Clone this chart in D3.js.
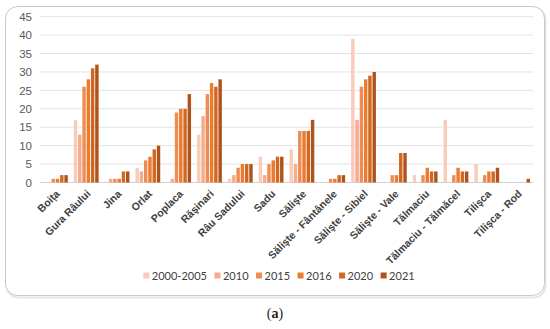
<!DOCTYPE html>
<html>
<head>
<meta charset="utf-8">
<script src="https://cdn.jsdelivr.net/npm/d3@7"></script>
<style>
  body { margin: 0; background: #fff; }
  svg { display: block; font-family: Lato, "Open Sans", sans-serif; }
</style>
</head>
<body>
<div id="chart"></div>
<script>
// localities on x axis
var localities = [
    "Boița", "Gura Râului", "Jina", "Orlat", "Poplaca", "Răşinari",
    "Râu Sadului", "Sadu", "Sălişte", "Sălişte - Fântânele", "Sălişte - Sibiel",
    "Sălişte - Vale", "Tălmaciu", "Tălmaciu - Tălmăcel", "Tilişca", "Tilişca - Rod"
];
var years = ["2000-2005", "2010", "2015", "2016", "2020", "2021"];

// one array per series, same order as localities
var s2000_2005 = [0, 17, 0, 4, 0, 13, 1, 7, 9, 0, 39, 0, 2, 17, 5, 0];
var s2010      = [0, 13, 1, 3, 1, 18, 2, 2, 5, 0, 17, 0, 0, 0, 0, 0];
var s2015      = [1, 26, 1, 6, 19, 24, 4, 5, 14, 1, 26, 2, 2, 2, 2, 0];
var s2016      = [1, 28, 1, 7, 20, 27, 5, 6, 14, 1, 28, 2, 4, 4, 3, 0];
var s2020      = [2, 31, 3, 9, 20, 26, 5, 7, 14, 2, 29, 8, 3, 3, 3, 0];
var s2021      = [2, 32, 3, 10, 24, 28, 5, 7, 17, 2, 30, 8, 3, 3, 4, 1];

var yTicks = [0, 5, 10, 15, 20, 25, 30, 35, 40, 45];
var colors = ["#f9cbb9", "#f4ab8e", "#ef8c55", "#eb7b2e", "#d06821", "#b0521b"];

var series = [s2000_2005, s2010, s2015, s2016, s2020, s2021];

var width = 550, height = 329;
var plotLeft = 40, plotRight = 533, plotTop = 16.7, plotBottom = 182.5;

var svg = d3.select("#chart")
    .append("svg")
    .attr("width", width)
    .attr("height", height);

// frame with soft shadow
svg.append("rect")
    .attr("x", 6.5).attr("y", 7.5)
    .attr("width", 539).attr("height", 290)
    .attr("rx", 12)
    .attr("fill", "none")
    .attr("stroke", "#e6e6e6")
    .attr("stroke-width", 2);
svg.append("rect")
    .attr("x", 5.5).attr("y", 6.5)
    .attr("width", 539).attr("height", 289)
    .attr("rx", 12)
    .attr("fill", "#fff")
    .attr("stroke", "#c8c8c8")
    .attr("stroke-width", 1);

var x = d3.scaleBand()
    .domain(localities)
    .range([plotLeft, plotRight])
    .paddingInner(0.14)
    .paddingOuter(0.07);

var x1 = d3.scaleBand()
    .domain(years)
    .range([0, x.bandwidth()])
    .padding(0.2);

var y = d3.scaleLinear()
    .domain([0, 45])
    .range([plotBottom, plotTop]);

// grid lines
svg.append("g")
    .selectAll("line")
    .data(yTicks)
    .enter()
    .append("line")
    .attr("x1", plotLeft)
    .attr("x2", plotRight)
    .attr("y1", function (d) { return y(d); })
    .attr("y2", function (d) { return y(d); })
    .attr("stroke", function (d) { return d == 0 ? "#d0d0d0" : "#e3e3e3"; })
    .attr("stroke-width", 1);

// y axis labels
var yAxis = d3.axisLeft(y).tickValues(yTicks).tickSize(0).tickPadding(6);
var gy = svg.append("g")
    .attr("transform", "translate(" + (plotLeft - 2) + ",0)")
    .call(yAxis);
gy.select(".domain").remove();
gy.selectAll("text")
    .attr("fill", "#595959")
    .style("font-size", "11.5px");

// bars
var groups = svg.append("g")
    .selectAll("g")
    .data(localities)
    .enter()
    .append("g")
    .attr("transform", function (d) { return "translate(" + x(d) + ",0)"; });

groups.selectAll("rect")
    .data(function (d, i) {
        return years.map(function (yr, j) {
            return { year: yr, value: series[j][i], color: colors[j] };
        });
    })
    .enter()
    .append("rect")
    .attr("x", function (d) { return x1(d.year); })
    .attr("width", x1.bandwidth())
    .attr("y", function (d) { return y(d.value); })
    .attr("height", function (d) { return y(0) - y(d.value); })
    .attr("fill", function (d) { return d.color; });

// rotated x labels
var xAxis = d3.axisBottom(x).tickSize(0).tickPadding(0);
var gx = svg.append("g")
    .attr("transform", "translate(0," + plotBottom + ")")
    .call(xAxis);
gx.select(".domain").remove();
gx.selectAll("text")
    .attr("text-anchor", "end")
    .attr("fill", "#404040")
    .style("font-size", "10.5px")
    .style("font-weight", "600")
    .attr("dy", "0")
    .attr("transform", "translate(5,12) rotate(-45)");

// legend, laid out from measured text widths
var legend = svg.append("g")
    .attr("transform", "translate(0,276)");

var items = legend.selectAll("g")
    .data(years)
    .enter()
    .append("g");

items.append("rect")
    .attr("x", 0).attr("y", -3.5)
    .attr("width", 6).attr("height", 6)
    .attr("fill", function (d, i) { return colors[i]; });

items.append("text")
    .attr("x", 8.5)
    .attr("y", 4)
    .text(function (d) { return d; })
    .attr("fill", "#404040")
    .style("font-size", "11px");

var gap = 7.5;
var pos = 0, offsets = [];
items.each(function () {
    offsets.push(pos);
    var w = d3.select(this).select("text").node().getComputedTextLength();
    pos += 8.5 + w + gap;
});
var total = pos - gap;
var start = 279 - total / 2;
items.attr("transform", function (d, i) { return "translate(" + (start + offsets[i]) + ",0)"; });

// caption
var caption = svg.append("text")
    .attr("x", 275)
    .attr("y", 318)
    .attr("text-anchor", "middle")
    .attr("fill", "#222")
    .style("font-size", "14px")
    .style("font-family", "'Liberation Serif', serif");
caption.append("tspan").text("(");
caption.append("tspan").style("font-weight", "bold").text("a");
caption.append("tspan").text(")");
</script>
</body>
</html>
